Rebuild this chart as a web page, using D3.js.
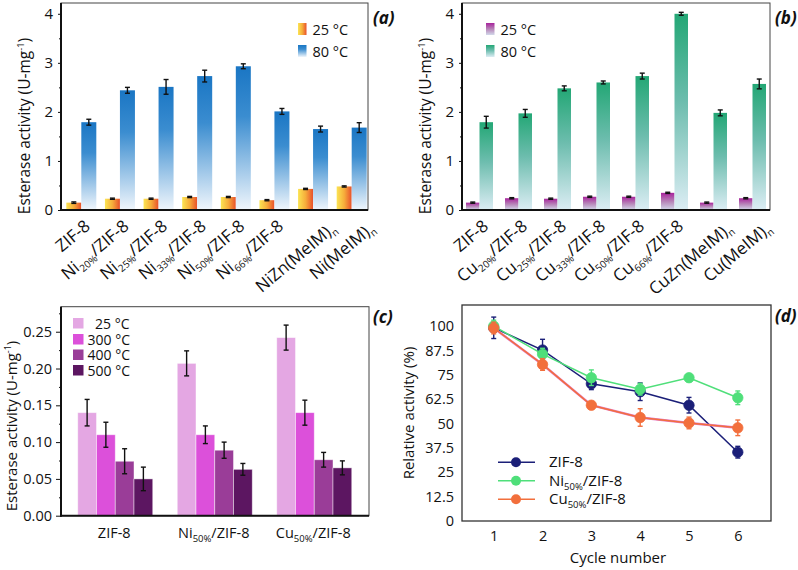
<!DOCTYPE html>
<html><head><meta charset="utf-8">
<script src="https://cdn.jsdelivr.net/npm/d3@7"></script>
<style>body{margin:0;background:#fff}svg{display:block;font-family:"Open Sans",sans-serif}</style>
</head><body><svg id="c" width="798" height="570"></svg>
<script>
// ---------- DATA ----------
const catsA = ["ZIF-8","Ni_20%_/ZIF-8","Ni_25%_/ZIF-8","Ni_33%_/ZIF-8","Ni_50%_/ZIF-8","Ni_66%_/ZIF-8","NiZn(MeIM)_n","Ni(MeIM)_n"];
const a25 = [0.15,0.23,0.23,0.265,0.265,0.20,0.43,0.48];
const a25err = [0.015,0.012,0.012,0.012,0.012,0.012,0.012,0.012];
const a80 = [1.79,2.44,2.51,2.73,2.93,2.01,1.65,1.68];
const a80err = [0.06,0.06,0.15,0.12,0.05,0.06,0.06,0.10];

const catsB = ["ZIF-8","Cu_20%_/ZIF-8","Cu_25%_/ZIF-8","Cu_33%_/ZIF-8","Cu_50%_/ZIF-8","Cu_66%_/ZIF-8","CuZn(MeIM)_n","Cu(MeIM)_n"];
const b25 = [0.15,0.24,0.23,0.27,0.27,0.35,0.15,0.24];
const b25err = [0.012,0.012,0.012,0.012,0.012,0.012,0.012,0.012];
const b80 = [1.79,1.97,2.48,2.60,2.73,4.00,1.98,2.57];
const b80err = [0.12,0.08,0.05,0.03,0.06,0.03,0.06,0.10];

const catsC = ["ZIF-8","Ni_50%_/ZIF-8","Cu_50%_/ZIF-8"];
const tempsC = ["25 °C","300 °C","400 °C","500 °C"];
const c25 = [0.140,0.207,0.242];
const c25err = [0.018,0.017,0.017];
const c300 = [0.110,0.110,0.140];
const c300err = [0.017,0.012,0.017];
const c400 = [0.074,0.089,0.076];
const c400err = [0.017,0.011,0.010];
const c500 = [0.050,0.063,0.065];
const c500err = [0.016,0.008,0.0095];

const cycles = [1,2,3,4,5,6];
const dZIF = [99.1,87.7,70.4,66.3,59.4,35.3];
const dZIFerr = [5.5,5.5,3.0,4.5,4.0,3.0];
const dNi = [100,85.6,73.5,67.6,73.5,63.2];
const dNierr = [3.0,3.0,4.0,3.0,2.0,3.5];
const dCu = [99.0,80.3,59.4,53.1,50.3,47.8];
const dCuerr = [3.0,3.0,2.0,4.5,3.0,4.0];
const seriesD = ["ZIF-8","Ni_50%_/ZIF-8","Cu_50%_/ZIF-8"];

// layout tweak for the rotated category labels (hand-placed in the original)
const labelShiftA = [[0,0],[0,0],[0,0],[0,0],[0,0],[0,0],[14,2],[14,2]];
const labelShiftB = [[0,0],[0,0],[0,0],[0,0],[0,0],[0,0],[10,2],[10,2]];

// ---------- HELPERS ----------
const svg = d3.select("#c");
const defs = svg.append("defs");
function grad(id, vertical, stops){
  const g = defs.append("linearGradient").attr("id",id)
    .attr("x1",0).attr("y1",0).attr("x2",vertical?0:1).attr("y2",vertical?1:0);
  stops.forEach(s=>g.append("stop").attr("offset",s[0]).attr("stop-color",s[1]));
}
grad("gA25",false,[[0,"#fbe453"],[0.5,"#f6ad3b"],[1,"#e8502b"]]);
grad("gA80",true,[[0,"#1a76c4"],[0.35,"#3b8dd0"],[1,"#f0f6fc"]]);
grad("gB25",true,[[0,"#a8239c"],[0.5,"#b784b8"],[1,"#d2d9ea"]]);
grad("gB80",true,[[0,"#23a775"],[0.45,"#6dbdae"],[1,"#dcedf4"]]);

function richText(sel, str, subSize){
  const parts = str.split("_");
  parts.forEach((p,i)=>{
    if(!p) return;
    const t = sel.append("tspan").text(p);
    if(i%2===1){ t.attr("font-size",subSize).attr("dy",4); }
    else if(i>0){ t.attr("dy",-4); }
  });
}
function frame(l,r,t,b){
  svg.append("rect").attr("x",l).attr("y",t).attr("width",r-l).attr("height",b-t)
    .attr("fill","none").attr("stroke","#444").attr("stroke-width",1);
  svg.append("line").attr("x1",l).attr("x2",l).attr("y1",t).attr("y2",b+1).attr("stroke","#111").attr("stroke-width",2);
  svg.append("line").attr("x1",l-1).attr("x2",r).attr("y1",b).attr("y2",b).attr("stroke","#111").attr("stroke-width",2);
}
function yAxis(x0, y, majors, minors, fmt, fs, tick, pad){
  const g1 = svg.append("g").attr("transform",`translate(${x0},0)`)
    .call(d3.axisLeft(y).tickValues(majors).tickFormat(fmt).tickSize(tick).tickPadding(pad));
  g1.select(".domain").remove();
  g1.selectAll("text").attr("font-size",fs).attr("fill","#111").attr("font-family","Open Sans");
  g1.selectAll("line").attr("stroke","#111");
  if(minors){
    const g2 = svg.append("g").attr("transform",`translate(${x0},0)`)
      .call(d3.axisLeft(y).tickValues(minors).tickFormat("").tickSize(2));
    g2.select(".domain").remove();
    g2.selectAll("line").attr("stroke","#111");
  }
}
function errBar(x, yTop, yBot, color, cap, w){
  const g = svg.append("g").attr("stroke",color).attr("stroke-width",w||1.4);
  g.append("line").attr("x1",x).attr("x2",x).attr("y1",yTop).attr("y2",yBot);
  g.append("line").attr("x1",x-cap/2).attr("x2",x+cap/2).attr("y1",yTop).attr("y2",yTop);
  g.append("line").attr("x1",x-cap/2).attr("x2",x+cap/2).attr("y1",yBot).attr("y2",yBot);
}
function yTitle(x, yc, fs){
  const t = svg.append("text").attr("transform",`translate(${x},${yc}) rotate(-90)`)
    .attr("text-anchor","middle").attr("font-size",fs).attr("fill","#111");
  t.append("tspan").text("Esterase activity (U-mg");
  t.append("tspan").text("-1").attr("font-size",fs*0.6).attr("dy",-6);
  t.append("tspan").text(")").attr("dy",6);
}
function panelLabel(x,y,s){
  svg.append("text").attr("x",x).attr("y",y).attr("font-size",17).attr("font-weight","bold")
    .attr("font-style","italic").attr("fill","#111").text(s);
}

// ---------- PANELS a & b ----------
function barPanel(o){
  const y = d3.scaleLinear().domain([0,4.22]).range([o.b,o.t]);
  const x = d3.scaleBand().domain(d3.range(o.cats.length)).range(o.xr);
  const cx = i => x(i)+x.bandwidth()/2;
  o.v25.forEach((v,i)=>svg.append("rect").attr("x",cx(i)-o.bw).attr("width",o.bw)
    .attr("y",y(v)).attr("height",y(0)-y(v)).attr("fill",`url(#${o.g25})`));
  o.v80.forEach((v,i)=>svg.append("rect").attr("x",cx(i)).attr("width",o.bw)
    .attr("y",y(v)).attr("height",y(0)-y(v)).attr("fill",`url(#${o.g80})`));
  o.v25.forEach((v,i)=>errBar(cx(i)-o.bw/2, y(v+o.e25[i]), y(v-o.e25[i]), "#111",5));
  o.v80.forEach((v,i)=>errBar(cx(i)+o.bw/2, y(v+o.e80[i]), y(v-o.e80[i]), "#111",5));
  frame(o.l,o.r,o.t,o.b);
  yAxis(o.l, y, [0,1,2,3,4], [0.5,1.5,2.5,3.5], d3.format("d"), 15, 3, 5);
  o.cats.forEach((c,i)=>{
    const ax = cx(i)+10+o.shift[i][0], ay = o.b+18+o.shift[i][1];
    const t = svg.append("text").attr("x",ax).attr("y",ay).attr("text-anchor","end")
      .attr("transform",`rotate(-40,${ax},${ay})`).attr("font-size",17).attr("fill","#111");
    richText(t,c,10);
  });
  yTitle(o.l-31, 126, 15.5);
  // legend
  [[o.g25,"25 °C",23],[o.g80,"80 °C",45]].forEach(d=>{
    svg.append("rect").attr("x",o.lx).attr("y",d[2]).attr("width",8.5).attr("height",12).attr("fill",`url(#${d[0]})`);
    svg.append("text").attr("x",o.lx+14.5).attr("y",d[2]+12).attr("font-size",14.5).attr("fill","#111").text(d[1]);
  });
}
barPanel({cats:catsA,v25:a25,e25:a25err,v80:a80,e80:a80err,g25:"gA25",g80:"gA80",
  l:61,r:368,t:3,b:210,xr:[62,371],bw:15,lx:298,shift:labelShiftA});
barPanel({cats:catsB,v25:b25,e25:b25err,v80:b80,e80:b80err,g25:"gB25",g80:"gB80",
  l:462,r:770,t:3,b:210,xr:[460,772],bw:13.5,lx:486,shift:labelShiftB});
panelLabel(373,24,"(a)");
panelLabel(775,24,"(b)");

// ---------- PANEL c ----------
{
  const l=61,r=369,t=306.7,b=515.7;
  const y = d3.scaleLinear().domain([0,0.284]).range([b,t]);
  const x0 = d3.scaleBand().domain(d3.range(3)).range([65.5,364]);
  const x1 = d3.scaleBand().domain(d3.range(4)).range([0,75]);
  const cols = ["#e4a7e3","#dc50da","#9a3d98","#5c1661"];
  const vals = [c25,c300,c400,c500], errs=[c25err,c300err,c400err,c500err];
  vals.forEach((arr,k)=>arr.forEach((v,i)=>{
    const gx = x0(i)+x0.bandwidth()/2-37.5 + x1(k);
    svg.append("rect").attr("x",gx).attr("width",x1.bandwidth()).attr("y",y(v)).attr("height",y(0)-y(v))
      .attr("fill",cols[k]).attr("stroke","rgba(255,255,255,0.55)").attr("stroke-width",0.8);
  }));
  vals.forEach((arr,k)=>arr.forEach((v,i)=>{
    const gx = x0(i)+x0.bandwidth()/2-37.5 + x1(k)+x1.bandwidth()/2;
    errBar(gx, y(v+errs[k][i]), y(v-errs[k][i]), "#111", 5);
  }));
  frame(l,r,t,b);
  yAxis(l, y, [0,0.05,0.10,0.15,0.20,0.25], [0.025,0.075,0.125,0.175,0.225,0.275], d3.format(".2f"), 14.5, 5, 4);
  catsC.forEach((c,i)=>{
    const tx = svg.append("text").attr("x",x0(i)+x0.bandwidth()/2-1).attr("y",538).attr("text-anchor","middle")
      .attr("font-size",14.5).attr("fill","#111");
    richText(tx,c,9.5);
  });
  yTitle(17, 426, 15);
  const ly=[318,334,349.5,365], lxT=[95,87.5,87.5,87.5];
  tempsC.forEach((s,k)=>{
    svg.append("rect").attr("x",73).attr("y",ly[k]).attr("width",10.5).attr("height",10.5).attr("fill",cols[k]);
    svg.append("text").attr("x",lxT[k]).attr("y",ly[k]+10.5).attr("font-size",14).attr("fill","#111").text(s);
  });
  panelLabel(373,323,"(c)");
}

// ---------- PANEL d ----------
{
  const l=462,r=771,t=305,b=521;
  const x = d3.scaleLinear().domain([0.35,6.68]).range([l,r]);
  const y = d3.scaleLinear().domain([0,110.8]).range([b,t]);
  const cols = ["#1b1f78","#4fdf7a","#f26f3c"];
  const vals = [dZIF,dNi,dCu], errs=[dZIFerr,dNierr,dCuerr];
  const line = d3.line().x((d,i)=>x(cycles[i])).y(d=>y(d));
  vals.forEach((arr,k)=>{
    if(k===2) svg.append("path").attr("d",line(arr)).attr("fill","none").attr("stroke","#e47ac8").attr("stroke-width",2.4);
    svg.append("path").attr("d",line(arr)).attr("fill","none").attr("stroke",cols[k]).attr("stroke-width",1.5);
    arr.forEach((v,i)=>errBar(x(cycles[i]), y(v+errs[k][i]), y(v-errs[k][i]), cols[k], 5, 1.4));
    arr.forEach((v,i)=>svg.append("circle").attr("cx",x(cycles[i])).attr("cy",y(v)).attr("r",5.2)
      .attr("fill",cols[k]).attr("stroke",cols[k]).attr("stroke-width",0.8));
  });
  svg.append("rect").attr("x",l).attr("y",t).attr("width",r-l).attr("height",b-t)
    .attr("fill","none").attr("stroke","#333").attr("stroke-width",1.3);
  const ga = svg.append("g").attr("transform",`translate(${l},0)`)
    .call(d3.axisLeft(y).tickValues([0,12.5,25,37.5,50,62.5,75,87.5,100]).tickFormat(d=>d).tickSize(0).tickPadding(8));
  ga.select(".domain").remove();
  ga.selectAll("text").attr("font-size",14.5).attr("fill","#111").attr("font-family","Open Sans");
  const gb = svg.append("g").attr("transform",`translate(0,${b})`)
    .call(d3.axisBottom(x).tickValues(cycles).tickFormat(d3.format("d")).tickSize(0).tickPadding(10));
  gb.select(".domain").remove();
  gb.selectAll("text").attr("font-size",14.5).attr("fill","#111").attr("font-family","Open Sans");
  svg.append("text").attr("x",618).attr("y",563).attr("text-anchor","middle").attr("font-size",15).attr("fill","#111").text("Cycle number");
  svg.append("text").attr("transform",`translate(414,413) rotate(-90)`).attr("text-anchor","middle")
    .attr("font-size",15).attr("fill","#111").text("Relative activity (%)");
  const ly=[462.3,480.7,499.3];
  seriesD.forEach((s,k)=>{
    svg.append("line").attr("x1",498).attr("x2",535).attr("y1",ly[k]).attr("y2",ly[k]).attr("stroke",cols[k]).attr("stroke-width",1.5);
    svg.append("circle").attr("cx",516).attr("cy",ly[k]).attr("r",5).attr("fill",cols[k]);
    const tx = svg.append("text").attr("x",549).attr("y",ly[k]+5).attr("font-size",15).attr("fill","#111");
    richText(tx,s,9.5);
  });
  panelLabel(775,322,"(d)");
}
</script></body></html>
